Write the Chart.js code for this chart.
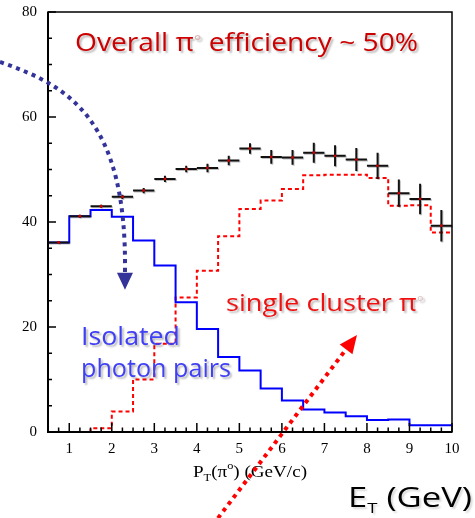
<!DOCTYPE html>
<html><head><meta charset="utf-8">
<script src="https://cdn.jsdelivr.net/npm/chart.js@4.4.1/dist/chart.umd.min.js"></script>
<style>html,body{margin:0;padding:0;background:#fff;}#wrap{width:475px;height:518px;position:relative;}</style>
</head><body><div id="wrap"><canvas id="c" width="475" height="518"></canvas></div>
<script>
// ---- data ----
const binLeftEdges = [0.5,1,1.5,2,2.5,3,3.5,4,4.5,5,5.5,6,6.5,7,7.5,8,8.5,9,9.5];
const binCenters   = [0.75,1.25,1.75,2.25,2.75,3.25,3.75,4.25,4.75,5.25,5.75,6.25,6.75,7.25,7.75,8.25,8.75,9.25,9.75];
const binHalfWidth = 0.25;
const overallEff   = [36.1,41.1,43.0,44.8,46.0,48.2,50.1,50.3,51.7,54.0,52.4,52.3,53.2,52.6,51.9,50.7,45.5,44.4,39.3];
const overallErr   = [0.3,0.3,0.3,0.4,0.5,0.6,0.6,0.8,0.9,1.0,1.3,1.4,1.9,2.0,2.2,2.5,2.6,2.9,3.0];
const isolatedPairs= [36.1,41.1,42.3,41.0,36.5,31.7,24.7,19.6,14.3,11.7,8.3,6.0,4.3,3.7,3.0,2.3,2.4,1.3,1.3];
const singleCluster= [0,0,0.7,3.9,10.0,16.8,25.6,30.7,37.3,42.5,44.1,46.3,48.9,49.0,49.0,48.4,43.1,43.2,38.0];
const xTickValues  = [1,2,3,4,5,6,7,8,9,10];
const yTickValues  = [0,20,40,60,80];
const xRange = [0.5,10];
const yRange = [0,80];

function histPoints(vals){
  const pts=[{x:binLeftEdges[0],y:0}];
  vals.forEach((v,i)=>pts.push({x:binLeftEdges[i],y:v}));
  pts.push({x:xRange[1],y:vals[vals.length-1]});
  return pts;
}

function drawSegs(ctx, segs, x, base, targetW){
  let total=0;
  segs.forEach(s=>{ctx.font=s.font; s.w=ctx.measureText(s.t).width; total+=s.w;});
  const k = targetW? targetW/total : 1;
  let cx=x;
  segs.forEach(s=>{
    ctx.save();
    ctx.font=s.font; ctx.fillStyle=s.color||'#000';
    ctx.translate(cx, base+(s.dy||0)); ctx.scale(k,1);
    ctx.fillText(s.t,0,0);
    ctx.restore();
    cx+=s.w*k;
  });
}

function dottedPath(ctx, color, build){
  ctx.save();
  ctx.strokeStyle=color; ctx.lineWidth=4; ctx.lineCap='butt';
  ctx.setLineDash([4,4.5]);
  ctx.beginPath(); build(); ctx.stroke();
  ctx.restore();
}
function arrowHead(ctx, color, tip, from, len, half){
  const dx=tip.x-from.x, dy=tip.y-from.y, L=Math.hypot(dx,dy);
  const ux=dx/L, uy=dy/L;
  const bx=tip.x-ux*len, by=tip.y-uy*len;
  ctx.save(); ctx.fillStyle=color; ctx.beginPath();
  ctx.moveTo(tip.x,tip.y);
  ctx.lineTo(bx-uy*half, by+ux*half);
  ctx.lineTo(bx+uy*half, by-ux*half);
  ctx.closePath(); ctx.fill(); ctx.restore();
}

const overlay = {
  id:'overlay',
  beforeDatasetDraw(chart,args){
    if(args.index!==0) return;
    const xs=chart.scales.x, ys=chart.scales.y, ctx=chart.ctx;
    ctx.save();
    ctx.strokeStyle='#111'; ctx.lineWidth=2;
    ctx.shadowColor='rgba(0,0,0,0.25)'; ctx.shadowOffsetX=1; ctx.shadowOffsetY=1;
    binCenters.forEach((c,i)=>{
      const px=xs.getPixelForValue(c), py=ys.getPixelForValue(overallEff[i]);
      ctx.beginPath();
      ctx.moveTo(xs.getPixelForValue(c-binHalfWidth),py);
      ctx.lineTo(xs.getPixelForValue(c+binHalfWidth),py);
      ctx.moveTo(px,ys.getPixelForValue(overallEff[i]+overallErr[i]));
      ctx.lineTo(px,ys.getPixelForValue(overallEff[i]-overallErr[i]));
      ctx.stroke();
    });
    ctx.restore();
  },
  afterDraw(chart){
    const ctx=chart.ctx, a=chart.chartArea, xs=chart.scales.x, ys=chart.scales.y;
    const P=(x,y)=>({x:xs.getPixelForValue(x), y:ys.getPixelForValue(y)});
    ctx.save();
    // frame
    ctx.strokeStyle='#000';
    ctx.lineWidth=1.5; ctx.strokeRect(a.left,a.top,a.right-a.left,a.bottom-a.top);
    ctx.lineWidth=2;
    ctx.beginPath(); ctx.moveTo(a.left,a.top); ctx.lineTo(a.left,a.bottom); ctx.lineTo(a.right,a.bottom); ctx.stroke();
    // ticks (inward)
    ctx.lineWidth=1.5;
    ctx.beginPath();
    for(let v=yRange[0]; v<=yRange[1]+1e-9; v+=5){
      const py=ys.getPixelForValue(v); const L=(v%20===0)?8:4;
      ctx.moveTo(a.left,py); ctx.lineTo(a.left+L,py);
    }
    for(let v=xRange[0]; v<=xRange[1]+1e-9; v+=0.25){
      const px=xs.getPixelForValue(v); const L=(Math.abs(v-Math.round(v))<1e-6)?9:4.5;
      ctx.moveTo(px,a.bottom); ctx.lineTo(px,a.bottom-L);
    }
    ctx.stroke();
    ctx.restore();

    // axis title  P_T(pi^o) (GeV/c)
    ctx.save();
    ctx.textBaseline='alphabetic';
    const ser='"Liberation Serif", serif';
    drawSegs(ctx,[
      {t:'P',font:`17px ${ser}`},
      {t:'T',font:`11px ${ser}`,dy:4},
      {t:'(\u03c0',font:`17px ${ser}`},
      {t:'o',font:`11px ${ser}`,dy:-8},
      {t:') (GeV/c)',font:`17px ${ser}`}
    ],193,477,114);
    ctx.restore();

    // annotations
    const cf='"Open Sans", "Noto Sans", sans-serif';
    ctx.save();
    ctx.shadowColor='rgba(0,0,0,0.28)'; ctx.shadowBlur=2; ctx.shadowOffsetX=2; ctx.shadowOffsetY=2;
    drawSegs(ctx,[
      {t:'Overall \u03c0',font:`25px ${cf}`,color:'#cc0000'},
      {t:'\u00b0',font:`16px ${cf}`,color:'#d9b3b3',dy:-4},
      {t:' efficiency ~ 50%',font:`25px ${cf}`,color:'#cc0000'}
    ],75,51,343);
    drawSegs(ctx,[
      {t:'single cluster \u03c0',font:`24px ${cf}`,color:'#f01010'},
      {t:'\u00b0',font:`15px ${cf}`,color:'#e0c8c8',dy:-4}
    ],226,311,198);
    drawSegs(ctx,[{t:'Isolated',font:`25px ${cf}`,color:'#3f3ff5'}],81,345,99);
    drawSegs(ctx,[{t:'photon pairs',font:`25px ${cf}`,color:'#3f3ff5'}],81,377,150);
    ctx.shadowColor='rgba(0,0,0,0.15)';
    drawSegs(ctx,[
      {t:'E',font:`28px ${cf}`,color:'#000'},
      {t:'T',font:`15px ${cf}`,color:'#000',dy:6},
      {t:' (GeV)',font:`28px ${cf}`,color:'#000'}
    ],348,507,124);
    ctx.restore();

    // blue curved dotted arrow
    const b0=P(-0.629,70.48), b1=P(1.017,65.9), b2=P(2.357,59.43), b3=P(2.31,30.48), bt=P(2.31,27.1);
    dottedPath(ctx,'#333399',()=>{ctx.moveTo(b0.x,b0.y); ctx.bezierCurveTo(b1.x,b1.y,b2.x,b2.y,b3.x,b3.y);});
    arrowHead(ctx,'#333399',bt,b3,17,8);
    // red straight dotted arrow
    const r0=P(4.497,-16.4), rt=P(7.765,18.48);
    const dx=rt.x-r0.x, dy=rt.y-r0.y, L=Math.hypot(dx,dy);
    const r1={x:rt.x-dx/L*15, y:rt.y-dy/L*15};
    dottedPath(ctx,'#ff0000',()=>{ctx.moveTo(r0.x,r0.y); ctx.lineTo(r1.x,r1.y);});
    arrowHead(ctx,'#ff0000',rt,r0,18,8);
  }
};

new Chart(document.getElementById('c'),{
  type:'line',
  data:{datasets:[
    {type:'scatter', data:binCenters.map((c,i)=>({x:c,y:overallEff[i]})), pointRadius:1.4, pointBackgroundColor:'#cc0000', pointBorderWidth:0, showLine:false},
    {data:histPoints(isolatedPairs), stepped:true, borderColor:'#0000ff', borderWidth:2, pointRadius:0, fill:false},
    {data:histPoints(singleCluster), stepped:true, borderColor:'#ff0000', borderWidth:2, borderDash:[4,3], pointRadius:0, fill:false}
  ]},
  options:{
    responsive:false, animation:false, devicePixelRatio:1,
    layout:{padding:{top:12,right:23,left:0,bottom:0}},
    plugins:{legend:{display:false},tooltip:{enabled:false}},
    scales:{
      x:{type:'linear',min:xRange[0],max:xRange[1],
        grid:{display:false,drawTicks:false},border:{display:false},
        ticks:{font:{family:'"Liberation Serif", serif',size:15},color:'#000',padding:8,maxRotation:0,autoSkip:false},
        afterBuildTicks:s=>{s.ticks=xTickValues.map(v=>({value:v}));},
        afterFit:s=>{s.height=86; s.paddingLeft=0; s.paddingRight=0;}
      },
      y:{type:'linear',min:yRange[0],max:yRange[1],
        grid:{display:false,drawTicks:false},border:{display:false},
        ticks:{font:{family:'"Liberation Serif", serif',size:15},color:'#000',padding:11,autoSkip:false},
        afterBuildTicks:s=>{s.ticks=yTickValues.map(v=>({value:v}));},
        afterFit:s=>{s.width=48; s.paddingTop=0; s.paddingBottom=0;}
      }
    }
  },
  plugins:[overlay]
});
</script></body></html>
